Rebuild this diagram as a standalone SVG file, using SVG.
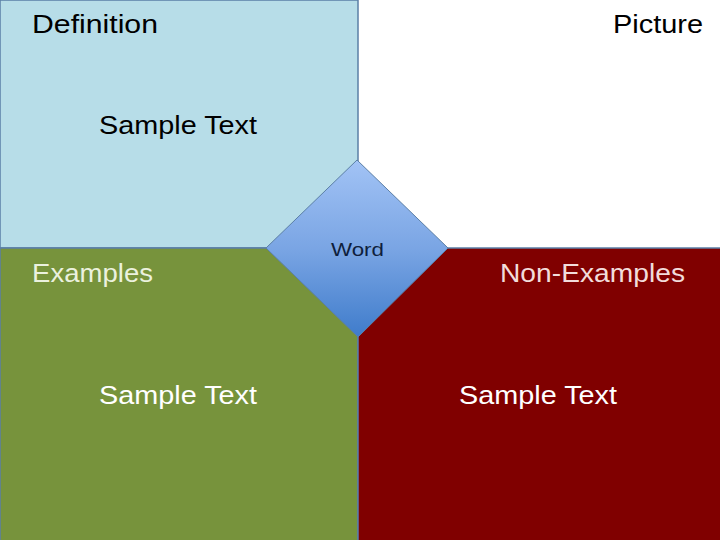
<svg xmlns="http://www.w3.org/2000/svg" width="720" height="540" viewBox="0 0 720 540">
<defs>
<linearGradient id="dg" x1="0" y1="0" x2="0" y2="1">
<stop offset="0" stop-color="#a2c3f5"/>
<stop offset="0.5" stop-color="#7aa5e4"/>
<stop offset="1" stop-color="#3f7ccb"/>
</linearGradient>
<style>
.q{stroke:#5b7fa6;stroke-width:1.5}
.t{font-family:"Liberation Sans",Arial,sans-serif;font-size:26px}
.s{font-family:"Liberation Sans",Arial,sans-serif;font-size:25px}
</style>
</defs>
<rect width="720" height="540" fill="#ffffff"/>
<g id="definition">
<rect class="q" x="0" y="0" width="358" height="248" fill="#b7dde8"/>
<text class="t" x="32" y="33" fill="#000" textLength="126" lengthAdjust="spacingAndGlyphs">Definition</text>
<text class="s" x="99" y="134" fill="#000" textLength="158" lengthAdjust="spacingAndGlyphs">Sample Text</text>
</g>
<g id="picture">
<text class="t" x="613" y="33" fill="#000" textLength="90" lengthAdjust="spacingAndGlyphs">Picture</text>
</g>
<g id="examples">
<rect class="q" x="0" y="248" width="358" height="293" fill="#77933c"/>
<text class="t" x="32" y="282" fill="#ebf1de" textLength="121" lengthAdjust="spacingAndGlyphs">Examples</text>
<text class="s" x="99" y="404" fill="#ffffff" textLength="158" lengthAdjust="spacingAndGlyphs">Sample Text</text>
</g>
<g id="nonexamples">
<rect class="q" x="358" y="248" width="363" height="293" fill="#800000"/>
<text class="t" x="500" y="282" fill="#f2dcdb" textLength="185" lengthAdjust="spacingAndGlyphs">Non-Examples</text>
<text class="s" x="459" y="404" fill="#ffffff" textLength="158" lengthAdjust="spacingAndGlyphs">Sample Text</text>
</g>
<g id="word">
<polygon points="357,160 448,248 358,337 266,248" fill="url(#dg)" stroke="#5b7fa6" stroke-width="1"/>
<text x="331" y="256" font-family="Liberation Sans, Arial, sans-serif" font-size="19" fill="#0f1f3d" textLength="53" lengthAdjust="spacingAndGlyphs">Word</text>
</g>
<g id="connectors"></g>
</svg>
